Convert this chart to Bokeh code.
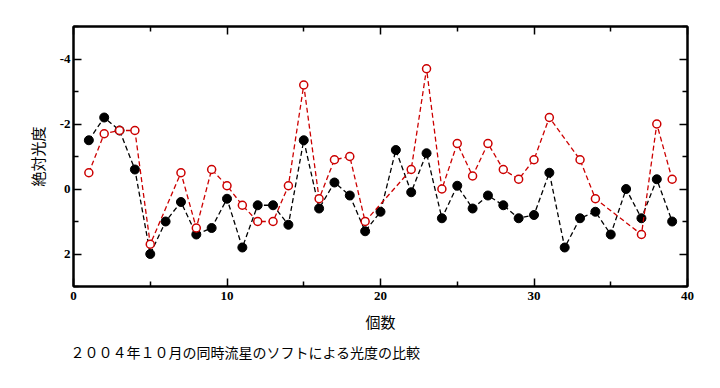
from bokeh.plotting import figure
from bokeh.models import Range1d, FixedTicker, LinearAxis, Title, ColumnDataSource
from bokeh.embed import file_html
from bokeh.resources import INLINE

# Data (absolute magnitude; axis reversed)
black_x = list(range(1, 40))
black_y = [-1.5, -2.2, -1.8, -0.6, 2.0, 1.0, 0.4, 1.4, 1.2, 0.3,
           1.8, 0.5, 0.5, 1.1, -1.5, 0.6, -0.2, 0.2, 1.3, 0.7,
           -1.2, 0.1, -1.1, 0.9, -0.1, 0.6, 0.2, 0.5, 0.9, 0.8,
           -0.5, 1.8, 0.9, 0.7, 1.4, 0.0, 0.9, -0.3, 1.0]

red_x = [1, 2, 3, 4, 5, 7, 8, 9, 10, 11, 12, 13, 14, 15, 16, 17, 18, 19,
         22, 23, 24, 25, 26, 27, 28, 29, 30, 31, 33, 34, 37, 38, 39]
red_y = [-0.5, -1.7, -1.8, -1.8, 1.7, -0.5, 1.2, -0.6, -0.1, 0.5, 1.0, 1.0, -0.1, -3.2, 0.3, -0.9, -1.0, 1.0,
         -0.6, -3.7, 0.0, -1.4, -0.4, -1.4, -0.6, -0.3, -0.9, -2.2, -0.9, 0.3, 1.4, -2.0, -0.3]

x_ticks = [0, 10, 20, 30, 40]
x_minor = [5, 15, 25, 35]
y_ticks = [-4, -2, 0, 2]
y_minor = [-5, -3, -1, 1, 3]

x_label = "個数"
y_label = "絶対光度"
caption = "２００４年１０月の同時流星のソフトによる光度の比較"

RED = "#cc0000"
TICK_FONT = "Liberation Serif"
JP_FONT = "Noto Sans CJK JP"

p = figure(width=712, height=380, output_backend="svg", toolbar_location=None,
           x_range=Range1d(0, 40), y_range=Range1d(3, -5),
           min_border_left=73, min_border_right=25, min_border_top=26, min_border_bottom=94)
p.grid.visible = False
p.outline_line_color = "black"
p.outline_line_width = 2
p.background_fill_color = "white"
p.border_fill_color = "white"

xt = FixedTicker(ticks=x_ticks, minor_ticks=x_minor)
yt = FixedTicker(ticks=y_ticks, minor_ticks=y_minor)

def style_axis(ax, labels=True, ticks=None):
    ax.axis_line_color = "black"
    ax.axis_line_width = 2
    ax.major_tick_in = 8
    ax.major_tick_out = 0
    ax.minor_tick_in = 5
    ax.minor_tick_out = 0
    ax.major_tick_line_color = "black"
    ax.minor_tick_line_color = "black"
    ax.major_tick_line_width = 1.5
    ax.minor_tick_line_width = 1.5
    if labels:
        ax.major_label_text_font = TICK_FONT
        ax.major_label_text_font_style = "bold"
        ax.major_label_text_font_size = "13px"
        ax.major_label_text_color = "black"
    else:
        ax.major_label_overrides = {v: "" for v in ticks}
        ax.major_label_standoff = 0

xa = p.xaxis[0]
xa.ticker = xt
style_axis(xa)
xa.major_label_standoff = 5
xa.axis_label = x_label
xa.axis_label_text_font = JP_FONT
xa.axis_label_text_font_style = "normal"
xa.axis_label_text_font_size = "15px"
xa.axis_label_text_color = "black"
xa.axis_label_standoff = 8

ya = p.yaxis[0]
ya.ticker = yt
style_axis(ya)
ya.major_label_standoff = 3
ya.major_label_overrides = {v: str(v) for v in y_ticks}
ya.axis_label = y_label
ya.axis_label_text_font = JP_FONT
ya.axis_label_text_font_style = "normal"
ya.axis_label_text_font_size = "15px"
ya.axis_label_text_color = "black"
ya.axis_label_standoff = 9

top = LinearAxis(ticker=xt)
style_axis(top, labels=False, ticks=x_ticks)
p.add_layout(top, "above")
right = LinearAxis(ticker=yt)
style_axis(right, labels=False, ticks=y_ticks)
p.add_layout(right, "right")

bsrc = ColumnDataSource(dict(x=black_x, y=black_y))
rsrc = ColumnDataSource(dict(x=red_x, y=red_y))

p.line("x", "y", source=bsrc, line_color="black", line_width=1.3, line_dash="5 3")
p.scatter("x", "y", source=bsrc, size=9, marker="circle", fill_color="black", line_color="black")
p.line("x", "y", source=rsrc, line_color=RED, line_width=1.3, line_dash="5 3")
p.scatter("x", "y", source=rsrc, size=8, marker="circle", fill_color="white", line_color=RED, line_width=1.5)

cap = Title(text=caption, align="left", text_font=JP_FONT, text_font_size="14px",
            text_font_style="normal", text_color="black", standoff=11, offset=-3)
p.add_layout(cap, "below")

open("out.html", "w").write(file_html(p, INLINE))
